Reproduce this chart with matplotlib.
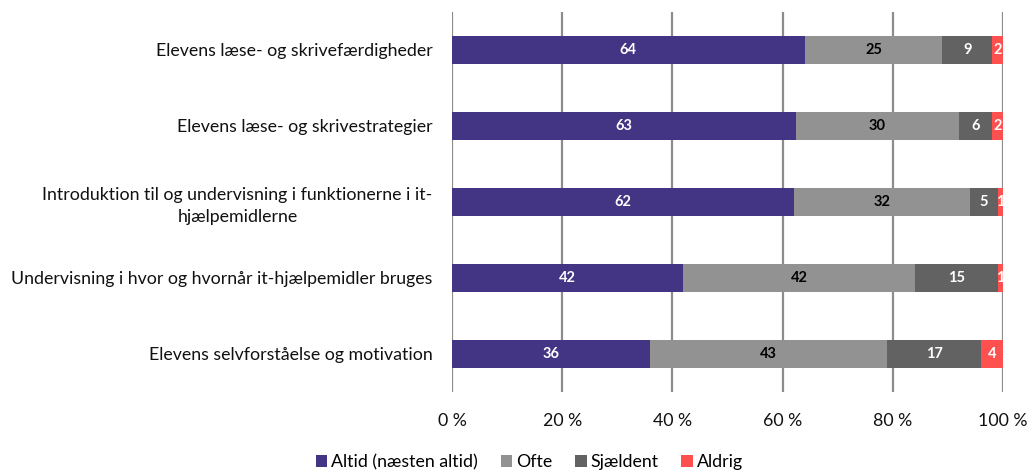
import numpy as np
import matplotlib.pyplot as plt

plt.rcParams['font.family'] = ['Lato', 'DejaVu Sans']

categories = [
    "Elevens læse- og skrivefærdigheder",
    "Elevens læse- og skrivestrategier",
    "Introduktion til og undervisning i funktionerne i it-\nhjælpemidlerne",
    "Undervisning i hvor og hvornår it-hjælpemidler bruges",
    "Elevens selvforståelse og motivation",
]
series = ["Altid (næsten altid)", "Ofte", "Sjældent", "Aldrig"]
altid = [64, 63, 62, 42, 36]
ofte = [25, 30, 32, 42, 43]
sjaeldent = [9, 6, 5, 15, 17]
aldrig = [2, 2, 1, 1, 4]

colors = ["#433584", "#929292", "#626262", "#FF5050"]
text_colors = ["white", "black", "white", "white"]

values = np.array([altid, ofte, sjaeldent, aldrig], dtype=float)
widths = values / values.sum(axis=0) * 100  # rows sum to 100 %

fig = plt.figure(figsize=(10.28, 4.70), dpi=100)
ax = fig.add_axes([0.4397, 0.166, 0.5360, 0.8085])

y = np.arange(len(categories))
left = np.zeros(len(categories))
for i, name in enumerate(series):
    bars = ax.barh(y, widths[i], left=left, height=0.37, color=colors[i],
                   label=name, zorder=3)
    for j, b in enumerate(bars):
        ax.text(left[j] + widths[i][j] / 2, y[j], f"{int(values[i][j])}",
                ha='center', va='center', color=text_colors[i],
                fontsize=10.5, fontweight='bold', zorder=4)
    left += widths[i]

ax.set_xlim(0, 100)
ax.set_ylim(len(categories) - 0.5, -0.5)
ax.set_yticks(y)
ax.set_yticklabels(categories, fontsize=12.8, color='#111111', ha='right',
                   linespacing=1.4)
for lbl in ax.get_yticklabels():
    lbl.set_multialignment('center')
ax.set_xticks(np.arange(0, 101, 20))
ax.set_xticklabels([f"{t} %" for t in range(0, 101, 20)], fontsize=12.8, color='#111111')
ax.tick_params(axis='y', length=0, pad=14)
ax.tick_params(axis='x', length=0, pad=15)
ax.grid(axis='x', color='#8c8c8c', linewidth=1.6, zorder=0)
for s in ax.spines.values():
    s.set_visible(False)

ax.legend(loc='center', bbox_to_anchor=(0.14, -0.184), ncol=4, frameon=False,
          fontsize=12.8, handlelength=0.65, handleheight=0.65, handletextpad=0.2,
          columnspacing=1.3, borderaxespad=0)

fig.savefig("out.png", dpi=100)
